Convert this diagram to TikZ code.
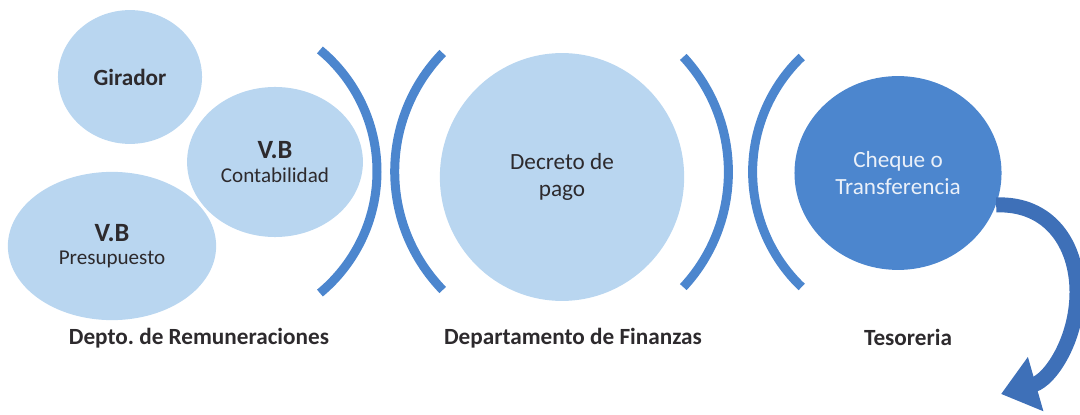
\documentclass[tikz,border=0pt]{standalone}
\usepackage{fontspec}
\setmainfont{Carlito}
\usetikzlibrary{shapes.geometric}
\usetikzlibrary{arrows.meta}
\definecolor{bubbleBlue}{RGB}{185,214,240}
\definecolor{strongBlue}{RGB}{76,134,206}
\definecolor{arrowBlue}{RGB}{62,112,184}
\definecolor{textGray}{RGB}{45,42,45}
\tikzset{
  bubble/.style = {ellipse, fill=#1, inner sep=0pt, text=textGray, align=center},
  bracket/.style = {color=#1, line width=0.15cm},
  deptlabel/.style = {text=textGray, font=\fontsize{11}{13}\selectfont\bfseries},
  curved arrow/.style = {color=#1, line width=0.25cm, -{Triangle[length=0.6cm, width=0.9cm]}}
}
\newcommand{\vbtext}[1]{%
  % #1: segunda linea del texto
  {\fontsize{12.5}{15}\selectfont\bfseries V.B}\\[-1pt]{\fontsize{10}{12}\selectfont #1}%
}

\begin{document}
\begin{tikzpicture}[x=0.016667cm, y=-0.016667cm]

    \useasboundingbox (0,0) rectangle (1080,415);

    % Coordinates
    \coordinate (B1) at (219,171.5);
    \coordinate (B2) at (565,171.5);
    \coordinate (B3) at (559,172);
    \coordinate (B4) at (912,172);
    \coordinate (tip) at (1001,394);

    % Depto. de Remuneraciones
    \node[bubble={bubbleBlue}, minimum width=2.4cm, minimum height=2.23cm,
      font=\fontsize{11}{13}\selectfont\bfseries] (gir) at (130,77) {Girador};
    \node[bubble={bubbleBlue}, minimum width=2.93cm, minimum height=2.5cm] (cont) at (275,162)
      {\vbtext{Contabilidad}};
    \node[bubble={bubbleBlue}, minimum width=3.47cm, minimum height=2.47cm] (pres) at (112,246)
      {\vbtext{Presupuesto}};

    % Departamento de Finanzas
    \node[bubble={bubbleBlue}, minimum width=4.07cm, minimum height=4.13cm,
      font=\fontsize{11}{12.5}\selectfont] (dec) at (562,177) {Decreto de\\pago};

    % Tesoreria
    \node[bubble={strongBlue}, text=white!88!strongBlue, minimum width=3.45cm, minimum height=3.23cm,
      font=\fontsize{11}{13}\selectfont] (cheq) at (898,173) {Cheque o\\Transferencia};

    % Brackets
    \draw[bracket={strongBlue}] (B1) ++(-50.3:158) arc[start angle=-50.3, end angle=50.3, radius=158];
    \draw[bracket={strongBlue}] (B2) ++(135.9:170.3) arc[start angle=135.9, end angle=224.1, radius=170.3];
    \draw[bracket={strongBlue}] (B3) ++(-42.8:169.4) arc[start angle=-42.8, end angle=42.8, radius=169.4];
    \draw[bracket={strongBlue}] (B4) ++(133.8:159.4) arc[start angle=133.8, end angle=226.2, radius=159.4];

    % Arrow
    \draw[curved arrow={arrowBlue}] (cheq.-18) .. controls (1050,203) and (1077,245) .. (1077,292)
      .. controls (1077,340) and (1050,380) .. (tip);

    % Labels
    \node[deptlabel] (rem) at (199,338) {Depto.\ de Remuneraciones};
    \node[deptlabel] (fin) at (573,338) {Departamento de Finanzas};
    \node[deptlabel] (tes) at (908,337) {Tesoreria};

\end{tikzpicture}
\end{document}
